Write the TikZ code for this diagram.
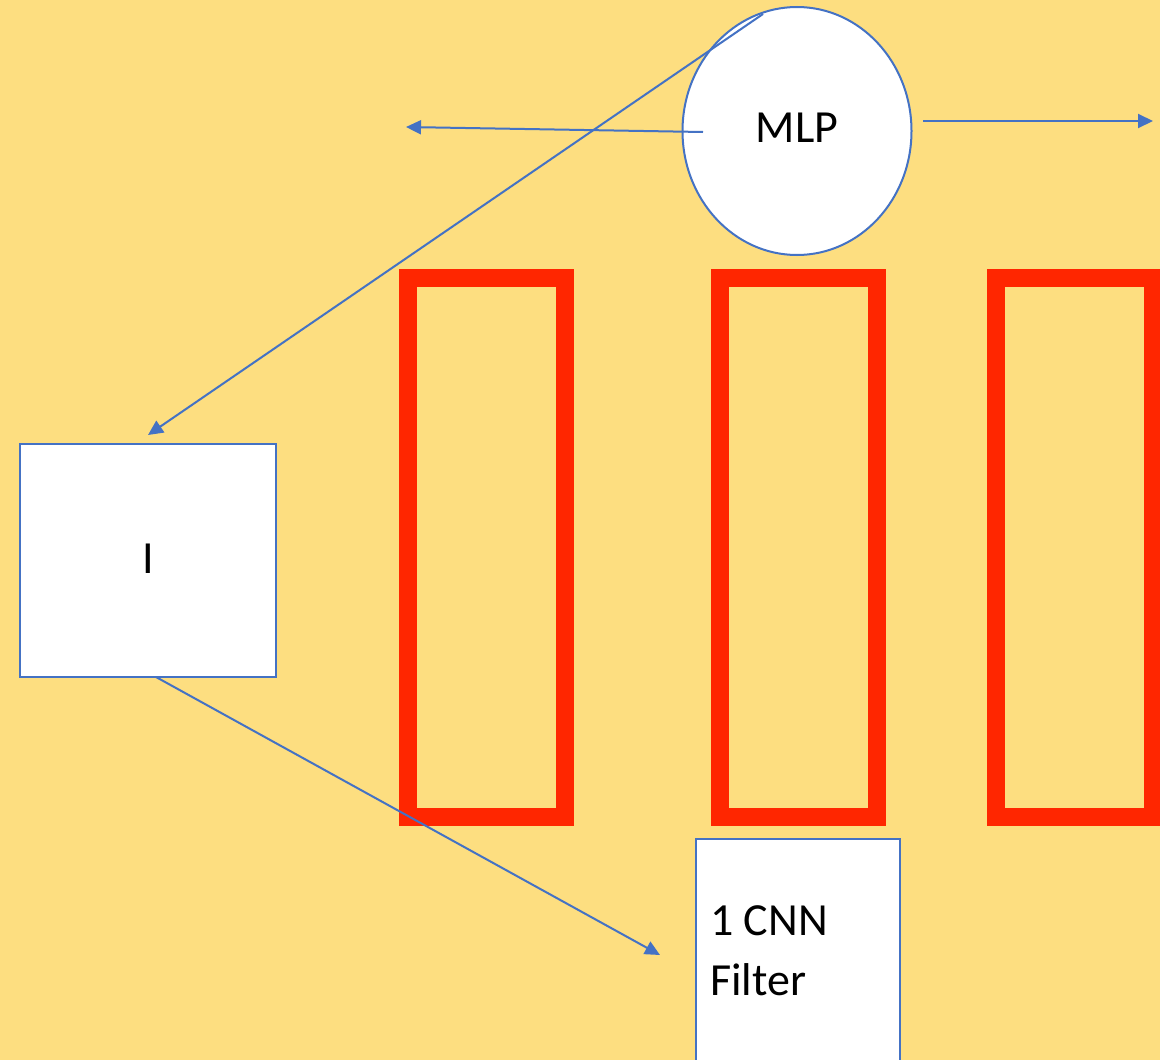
\documentclass[tikz,border=0pt]{standalone}
\usepackage{fontspec}
\setmainfont{Carlito}
\usetikzlibrary{shapes.geometric,arrows.meta}
\definecolor{bg}{HTML}{FDDE80}
\definecolor{lnblue}{HTML}{4472C4}
\definecolor{redbox}{HTML}{FF2600}
\tikzset{
  lbl/.style={font=\fontsize{46}{60}\selectfont, text=black},
  whitebox/.style={draw=lnblue, line width=2pt, fill=white, inner sep=0pt},
  redframe/.style={draw=redbox, line width=18pt, minimum width=157pt, minimum height=539pt, inner sep=0pt},
  conn/.style={draw=lnblue, line width=2pt, -{Triangle[length=15pt,width=14pt]}}
}
\begin{document}
\begin{tikzpicture}[x=1pt,y=-1pt]
\useasboundingbox (0,0) rectangle (1160,1060);
\fill[bg] (0,0) rectangle (1160,1060);
% red frames
\node[redframe] (r1) at (486.5,547.5) {};
\node[redframe] (r2) at (798,547.5) {};
\node[redframe] (r3) at (1074.5,547.5) {};
% MLP ellipse
\node[whitebox, ellipse, minimum width=229pt, minimum height=248pt, lbl] (mlp) at (797,131) {\raisebox{7pt}{MLP}};
% I box
\node[whitebox, minimum width=256pt, minimum height=233pt, lbl] (boxI) at (148,560.5) {\raisebox{4pt}{I}};
% CNN box
\node[whitebox, minimum width=204pt, minimum height=300pt] (cnn) at (798,989) {};
\node[lbl, align=left, anchor=north west, inner sep=0pt] (cnntxt) at (710,905) {1 CNN\\Filter};
% connector ends
\coordinate (m1) at (763,14);
\coordinate (m2) at (703,132);
\coordinate (m3) at (923,121);
\coordinate (t2) at (406,127);
\coordinate (t3) at (1153,121);
\coordinate (i4) at (156,677);
\coordinate (t4) at (660,955);
% connectors
\draw[conn] (m1) -- ([yshift=8pt]boxI.north);
\draw[conn] (m2) -- (t2);
\draw[conn] (m3) -- (t3);
\draw[conn] (i4) -- (t4);
\end{tikzpicture}
\end{document}
